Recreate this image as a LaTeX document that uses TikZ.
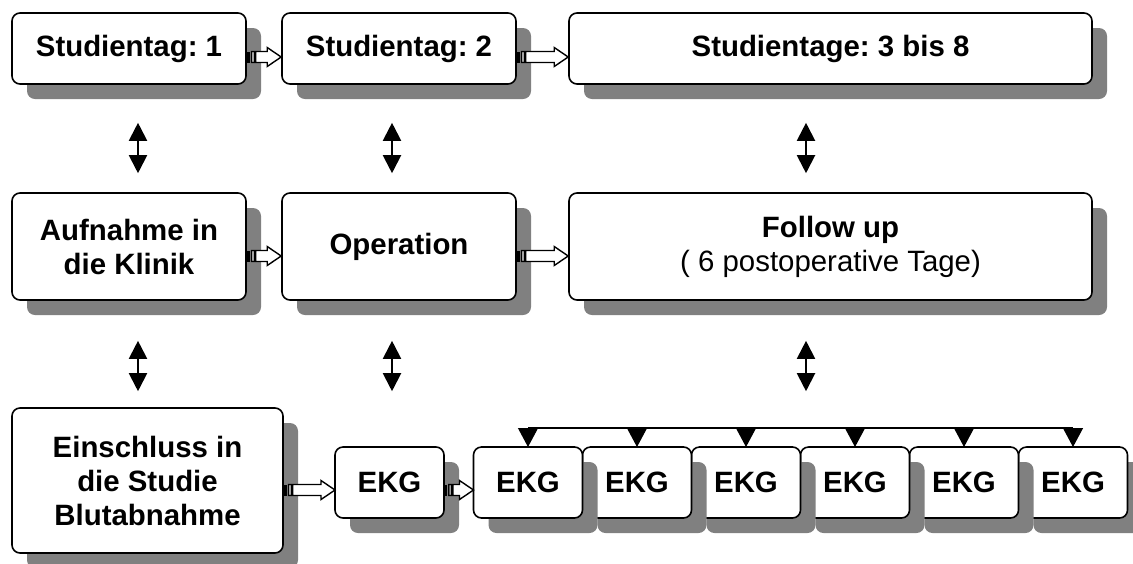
\documentclass[tikz,border=0pt]{standalone}
\usepackage{fontspec}
\setmainfont{Liberation Sans}
\usetikzlibrary{positioning, shadows, calc, arrows.meta}
\frenchspacing

\newcommand{\stripedarrow}[3]{%
\fill let \p1=([yshift=#3]#1.east) in (\x1,\y1-2.75pt) rectangle (\x1+1.7pt,\y1+2.75pt);
\draw[hollow] let \p1=([yshift=#3]#1.east), \p2=(#2.west) in
  (\x1+2.4pt,\y1-2.75pt) rectangle (\x1+3.7pt,\y1+2.75pt)
  (\x1+4.4pt,\y1+2.75pt) -- (\x2-7pt,\y1+2.75pt) -- (\x2-7pt,\y1+4.75pt)
  -- (\x2,\y1) -- (\x2-7pt,\y1-4.75pt) -- (\x2-7pt,\y1-2.75pt)
  -- (\x1+4.4pt,\y1-2.75pt) -- cycle;
}

\begin{document}
\begin{tikzpicture}[x=0.5pt,y=-0.5pt,
font=\fontsize{14.7pt}{17pt}\selectfont,
box/.style={draw,line width=0.8pt,rounded corners=4pt,fill=white,align=center,
  font=\fontsize{14.7pt}{17pt}\selectfont\bfseries,inner sep=2pt,
  drop shadow={shadow xshift=7.5pt,shadow yshift=-7.5pt,fill=black!50,opacity=1}},
ekg/.style={box,minimum width=54.5pt,minimum height=35.5pt,outer sep=0pt},
hollow/.style={draw,fill=white,line width=0.7pt},
updown/.style={{Triangle[width=9pt,length=9pt]}-{Triangle[width=9pt,length=9pt]},line width=1pt},
bustip/.style={-{Triangle[width=10pt,length=9.5pt]},line width=0.6pt}
]
\useasboundingbox (0,0) rectangle (1133,563);

\node[box,minimum width=117pt,minimum height=35.5pt] (s1) at (129,48.5) {Studientag: 1};
\node[box,minimum width=117pt,minimum height=35.5pt] (s2) at (399,48.5) {Studientag: 2};
\node[box,minimum width=261.5pt,minimum height=35.5pt] (s3) at (830.5,48.5) {Studientage: 3 bis 8};

\node[box,minimum width=117pt,minimum height=53.5pt] (a1) at (129,246.5) {Aufnahme in\\die Klinik};
\node[box,minimum width=117pt,minimum height=53.5pt] (op) at (399,246.5) {Operation};
\node[box,minimum width=261.5pt,minimum height=53.5pt] (fu) at (830.5,246.5) {Follow up\\\mdseries( 6 postoperative Tage)};

\node[box,minimum width=135.5pt,minimum height=72.5pt] (ein) at (147.5,480.5) {Einschluss in\\die Studie\\Blutabnahme};
\node[ekg] (e0) at (389.5,482.5) {EKG};
\node[ekg] (e6) at (1073,482.5) {EKG};
\foreach \i/\j in {5/6,4/5,3/4,2/3,1/2}
  \node[ekg,left=0pt of e\j] (e\i) {EKG};

\stripedarrow{s1}{s2}{-4.25pt}
\stripedarrow{s2}{s3}{-4.25pt}
\stripedarrow{a1}{op}{-4.75pt}
\stripedarrow{op}{fu}{-4.75pt}
\stripedarrow{ein}{e0}{-4.75pt}
\stripedarrow{e0}{e1}{-3.75pt}

\draw[updown,shorten <=19pt,shorten >=9.5pt] ([xshift=4.5pt]s1.south) -- ([xshift=4.5pt]a1.north);
\draw[updown,shorten <=19pt,shorten >=9.5pt] ([xshift=-3.5pt]s2.south) -- ([xshift=-3.5pt]op.north);
\draw[updown,shorten <=19pt,shorten >=9.5pt] ([xshift=-12.25pt]s3.south) -- ([xshift=-12.25pt]fu.north);
\draw[updown,shorten <=20pt,shorten >=8pt] ([xshift=4.5pt]a1.south) -- ([xshift=4.5pt]a1.south |- ein.north);
\draw[updown,shorten <=20pt,shorten >=8pt] ([xshift=-3.5pt]op.south) -- ([xshift=-3.5pt]op.south |- ein.north);
\draw[updown,shorten <=20pt,shorten >=8pt] ([xshift=-12.25pt]fu.south) -- ([xshift=-12.25pt]fu.south |- ein.north);

\draw[line width=0.6pt] ([yshift=9.5pt]e1.north) coordinate (b1) -- ([yshift=9.5pt]e6.north);
\foreach \i in {1,...,6}
  \draw[bustip] (e\i.north |- b1) -- (e\i.north);
\end{tikzpicture}
\end{document}
